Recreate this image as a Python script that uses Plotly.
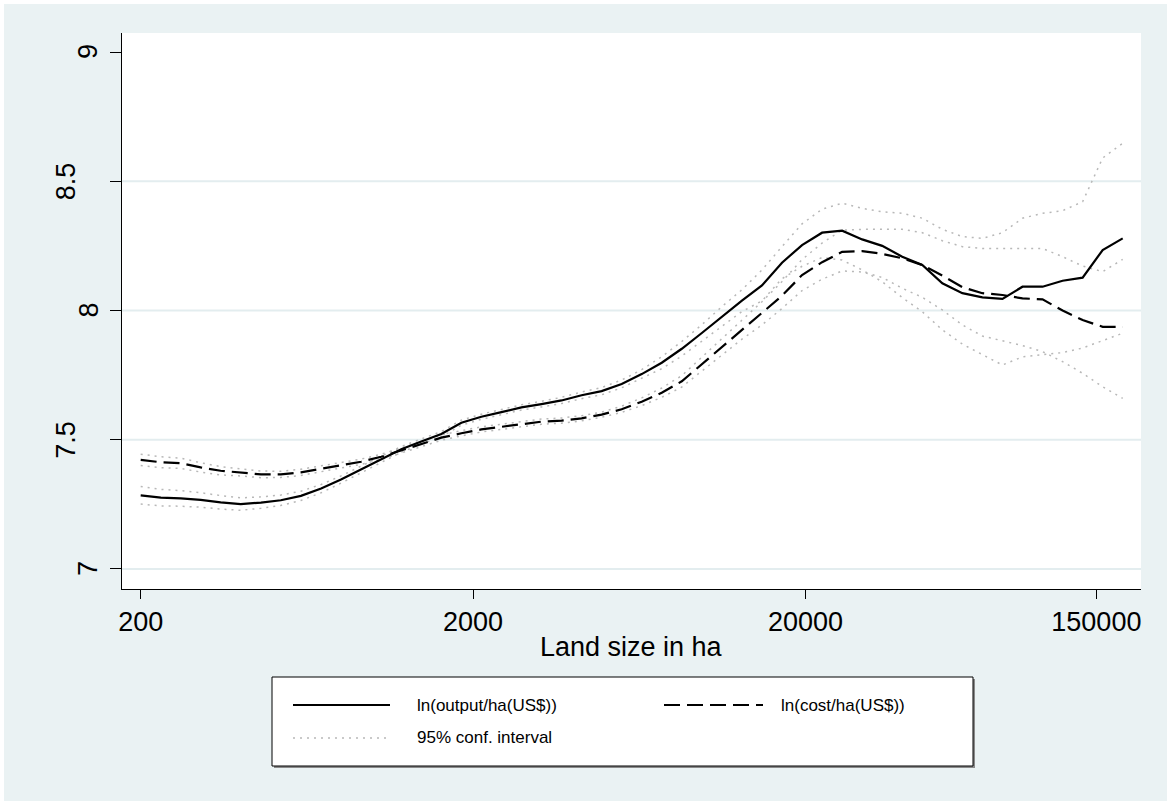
import plotly.graph_objects as go

# Lowess fits of log output and log cost per hectare against land size (ha)
land_ha = [200, 230, 264, 303, 348, 400, 460, 528, 607, 698,
           801, 921, 1058, 1216, 1397, 1605, 1844, 2118, 2434, 2796,
           3212, 3691, 4241, 4872, 5598, 6431, 7389, 8490, 9754, 11207,
           12876, 14794, 16997, 19529, 22437, 25779, 29618, 34029, 39097, 44920,
           51610, 59296, 68127, 78273, 89930, 103324, 118712, 136392, 156705, 180044]

ln_output = [7.285, 7.276, 7.273, 7.267, 7.258, 7.251, 7.257, 7.266, 7.283, 7.311,
             7.346, 7.386, 7.424, 7.463, 7.493, 7.522, 7.566, 7.589, 7.607, 7.625,
             7.638, 7.652, 7.672, 7.688, 7.716, 7.754, 7.798, 7.852, 7.913, 7.977,
             8.038, 8.097, 8.185, 8.253, 8.301, 8.309, 8.275, 8.250, 8.208, 8.176,
             8.105, 8.067, 8.051, 8.045, 8.092, 8.092, 8.115, 8.127, 8.234, 8.279]

output_lo = [7.251, 7.244, 7.243, 7.239, 7.232, 7.227, 7.235, 7.246, 7.265, 7.295,
             7.332, 7.373, 7.412, 7.452, 7.483, 7.512, 7.556, 7.579, 7.597, 7.615,
             7.627, 7.640, 7.659, 7.674, 7.701, 7.737, 7.775, 7.824, 7.881, 7.939,
             7.996, 8.037, 8.123, 8.171, 8.205, 8.195, 8.157, 8.111, 8.050, 7.995,
             7.925, 7.870, 7.828, 7.789, 7.821, 7.830, 7.837, 7.855, 7.885, 7.912]

output_hi = [7.319, 7.308, 7.303, 7.295, 7.284, 7.275, 7.279, 7.286, 7.301, 7.327,
             7.360, 7.399, 7.436, 7.474, 7.503, 7.532, 7.576, 7.599, 7.617, 7.635,
             7.649, 7.664, 7.685, 7.702, 7.731, 7.771, 7.821, 7.880, 7.945, 8.015,
             8.080, 8.157, 8.247, 8.335, 8.392, 8.415, 8.395, 8.382, 8.376, 8.357,
             8.314, 8.286, 8.279, 8.301, 8.357, 8.376, 8.386, 8.421, 8.590, 8.647]

ln_cost = [7.422, 7.413, 7.409, 7.393, 7.380, 7.374, 7.366, 7.366, 7.374, 7.388,
           7.402, 7.415, 7.434, 7.458, 7.482, 7.508, 7.525, 7.540, 7.550, 7.560,
           7.570, 7.574, 7.583, 7.597, 7.618, 7.647, 7.682, 7.726, 7.792, 7.860,
           7.927, 7.992, 8.057, 8.137, 8.187, 8.227, 8.230, 8.219, 8.202, 8.176,
           8.135, 8.090, 8.067, 8.060, 8.047, 8.043, 8.000, 7.963, 7.937, 7.937]

cost_lo = [7.400, 7.392, 7.389, 7.375, 7.364, 7.360, 7.353, 7.354, 7.362, 7.377,
           7.391, 7.405, 7.424, 7.448, 7.472, 7.498, 7.515, 7.530, 7.540, 7.550,
           7.560, 7.564, 7.573, 7.587, 7.606, 7.632, 7.664, 7.704, 7.765, 7.828,
           7.889, 7.944, 8.008, 8.077, 8.121, 8.153, 8.149, 8.128, 8.086, 8.051,
           8.002, 7.944, 7.901, 7.883, 7.864, 7.841, 7.802, 7.757, 7.705, 7.660]

cost_hi = [7.444, 7.434, 7.429, 7.411, 7.396, 7.388, 7.379, 7.378, 7.386, 7.399,
           7.413, 7.425, 7.444, 7.468, 7.492, 7.518, 7.535, 7.550, 7.560, 7.570,
           7.580, 7.584, 7.593, 7.607, 7.630, 7.662, 7.700, 7.748, 7.819, 7.892,
           7.965, 8.034, 8.112, 8.197, 8.261, 8.311, 8.314, 8.314, 8.314, 8.301,
           8.270, 8.247, 8.240, 8.240, 8.240, 8.240, 8.208, 8.172, 8.150, 8.198]

x_ticks = [200, 2000, 20000, 150000]
y_ticks = [7, 7.5, 8, 8.5, 9]
y_grid = [7, 7.5, 8, 8.5]

x_title = "Land size in ha"
legend_labels = ["ln(output/ha(US$))", "ln(cost/ha(US$))", "95% conf. interval"]

# ---- styling -------------------------------------------------------------
W, H = 1167, 801
L, R, T, B = 122, 1141, 33, 589          # plot area edges in pixels
BG = "#EAF2F3"
GRID = "#E3EDEF"
CI_COLOR = "#B8B8B8"
CI_DASH = "2px,5px"
COST_DASH = "16px,7px"
LINE_W = 2.2
FONT = "Liberation Sans, Arial, sans-serif"


def px(x):
    return (x - L) / (R - L)


def py(y):
    return (B - y) / (B - T)


fig = go.Figure()

# confidence bands (dotted grey)
for band in (output_lo, output_hi, cost_lo, cost_hi):
    fig.add_trace(go.Scatter(
        x=land_ha, y=band, mode="lines", showlegend=False, hoverinfo="skip",
        line=dict(color=CI_COLOR, width=1.5, dash=CI_DASH)))

fig.add_trace(go.Scatter(
    x=land_ha, y=ln_output, mode="lines", name=legend_labels[0],
    line=dict(color="black", width=LINE_W)))
fig.add_trace(go.Scatter(
    x=land_ha, y=ln_cost, mode="lines", name=legend_labels[1],
    line=dict(color="black", width=LINE_W, dash=COST_DASH)))

shapes = []
# horizontal grid lines
for g in y_grid:
    shapes.append(dict(type="line", xref="paper", x0=0, x1=1, yref="y", y0=g, y1=g,
                       line=dict(color=GRID, width=2), layer="below"))

# thin white frame along the top and left edges of the page
shapes.append(dict(type="rect", xref="paper", yref="paper", x0=px(0), x1=px(W),
                   y0=py(4), y1=py(0), fillcolor="white", line=dict(width=0)))
shapes.append(dict(type="rect", xref="paper", yref="paper", x0=px(0), x1=px(4),
                   y0=py(H), y1=py(0), fillcolor="white", line=dict(width=0)))

# legend box with a soft drop shadow
lx0, lx1, ly0, ly1 = 272, 973, 677, 766
shapes.append(dict(type="rect", xref="paper", yref="paper",
                   x0=px(lx0 + 2), x1=px(lx1 + 2), y0=py(ly1 + 2), y1=py(ly0 + 2),
                   fillcolor="#8A8A8A", line=dict(width=0)))
shapes.append(dict(type="rect", xref="paper", yref="paper",
                   x0=px(lx0), x1=px(lx1), y0=py(ly1), y1=py(ly0),
                   fillcolor="white", line=dict(color="black", width=1)))

legend_items = [
    (293, 390, 705, dict(color="black", width=LINE_W), 415, legend_labels[0]),
    (664, 763, 705, dict(color="black", width=LINE_W, dash=COST_DASH), 779, legend_labels[1]),
    (293, 390, 738, dict(color=CI_COLOR, width=1.5, dash=CI_DASH), 415, legend_labels[2]),
]

annotations = []
for x0, x1, yy, style, tx, label in legend_items:
    shapes.append(dict(type="line", xref="paper", yref="paper",
                       x0=px(x0), x1=px(x1), y0=py(yy), y1=py(yy), line=style))
    annotations.append(dict(text=label, xref="paper", yref="paper", x=px(tx), y=py(yy),
                            xanchor="left", yanchor="middle", showarrow=False,
                            font=dict(family=FONT, size=17, color="black")))

# rotated y tick labels
for v in y_ticks:
    t = f"{v:g}"
    annotations.append(dict(text=t, xref="paper", yref="y", x=0, y=v,
                            xanchor="center", yanchor="middle", textangle=-90,
                            xshift=-(23 + 11 * len(t)), showarrow=False,
                            font=dict(family=FONT, size=27, color="black")))

# x axis title
annotations.append(dict(text=x_title, xref="paper", yref="paper", x=0.5, y=py(647),
                        xanchor="center", yanchor="middle", showarrow=False,
                        font=dict(family=FONT, size=27, color="black")))

fig.update_layout(
    width=W, height=H,
    margin=dict(l=L, r=W - R, t=T, b=H - B),
    paper_bgcolor=BG, plot_bgcolor="white",
    showlegend=False,
    font=dict(family=FONT, color="black"),
    shapes=shapes, annotations=annotations,
)
fig.update_xaxes(
    type="log", range=[2.2448, 5.3104],
    tickvals=x_ticks, ticktext=[str(v) for v in x_ticks],
    ticks="outside", ticklen=9, tickwidth=1, tickcolor="black",
    showline=True, linecolor="black", linewidth=1,
    showgrid=False, zeroline=False,
    tickfont=dict(family=FONT, size=27, color="black"),
)
fig.update_yaxes(
    range=[6.9226, 9.0735], tickvals=y_ticks,
    ticks="outside", ticklen=11, tickwidth=1, tickcolor="black",
    showline=True, linecolor="black", linewidth=1,
    showgrid=False, zeroline=False, showticklabels=False,
)

fig.write_html("out.html")
